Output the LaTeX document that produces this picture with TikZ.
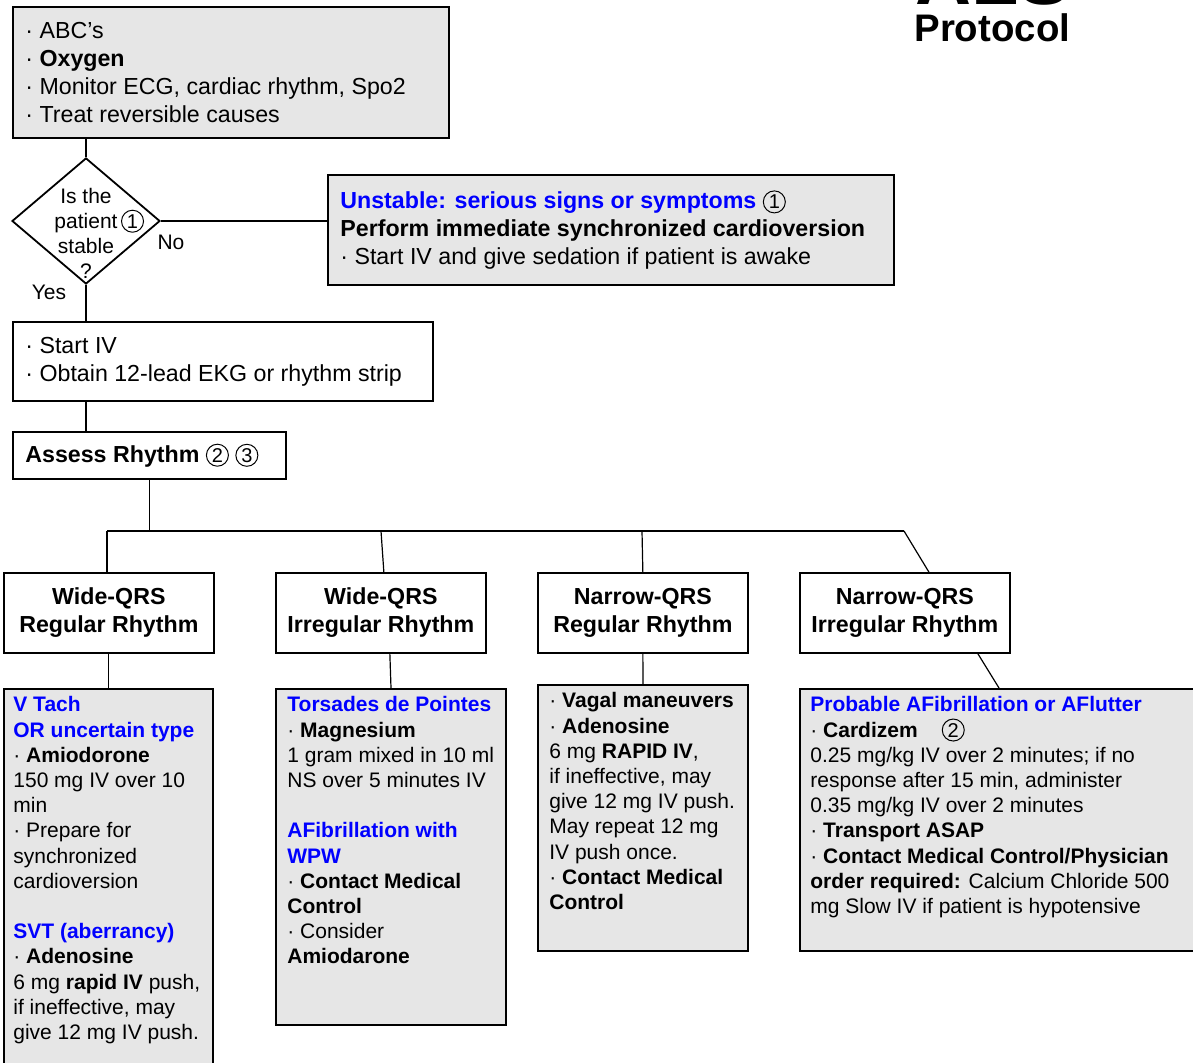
\documentclass[tikz,border=0pt]{standalone}
\usepackage{fontspec}
\setmainfont{Liberation Sans}
\usetikzlibrary{shapes.geometric}
\definecolor{boxgray}{RGB}{230,230,230}
\newcommand{\cnum}[1]{\tikz[baseline=(cn.base)]\node[circle,draw=black,text=black,line width=0.5pt,inner sep=0pt,minimum size=11pt,font=\normalfont\fontsize{10}{10}\selectfont](cn){#1};}
\newcommand{\bl}[1]{{\color{blue}\bfseries #1}}
\begin{document}
\begin{tikzpicture}[x=0.5pt,y=-0.5pt,
	graybox/.style={draw,line width=1pt,fill=boxgray,anchor=north west,inner sep=0pt},
	whitebox/.style={draw,line width=0.85pt,fill=white,anchor=north west,inner sep=0pt},
	head/.style={whitebox,minimum width=105pt,minimum height=40pt,align=center,font=\bfseries\fontsize{11.6}{14}\selectfont},
	bigtext/.style={anchor=west,align=left,inner sep=0pt,font=\fontsize{11.6}{14}\selectfont},
	smalltext/.style={anchor=north west,align=left,inner sep=0pt,font=\fontsize{10.5}{12.6}\selectfont},
	answer/.style={inner sep=0pt,font=\fontsize{10.5}{12.5}\selectfont},
	link/.style={line width=0.6pt}]
\useasboundingbox (0,0) rectangle (1193,1063);

\node[anchor=base west,inner sep=0pt,font=\bfseries\fontsize{38.8}{40}\selectfont] (als) at (915,5) {ALS};
\node[anchor=base west,inner sep=0pt,font=\bfseries\fontsize{19.2}{20}\selectfont] (title) at (914,42) {Protocol};

\node[graybox,minimum width=218pt,minimum height=65.5pt] (abc) at (12,6) {};
\node[bigtext] (abc-t) at ([xshift=6.5pt]abc.west) {· ABC’s\\· \textbf{Oxygen}\\· Monitor ECG, cardiac rhythm, Spo2\\· Treat reversible causes};

\node[draw,diamond,line width=0.9pt,minimum width=74pt,minimum height=63pt,inner sep=0pt] (stable) at (86,221) {};
\node[answer,align=center] (stable-t) at ([yshift=-6pt]stable.center) {Is the\\patient\rlap{\,\cnum{1}}\\stable\\?};
\node[answer] (no) at (171,242) {No};
\node[answer] (yes) at (49,292) {Yes};

\node[graybox,minimum width=283pt,minimum height=55pt] (unstable) at (327,174) {};
\node[bigtext] (unstable-t) at ([xshift=6.5pt]unstable.west) {\bl{Unstable: serious signs or symptoms} \cnum{1}\\\textbf{Perform immediate synchronized cardioversion}\\· Start IV and give sedation if patient is awake};

\node[whitebox,minimum width=210pt,minimum height=39.5pt] (iv) at (12,321) {};
\node[bigtext] (iv-t) at ([xshift=6.5pt]iv.west) {· Start IV\\· Obtain 12-lead EKG or rhythm strip};

\node[whitebox,minimum width=136.5pt,minimum height=23.5pt] (assess) at (12,431) {};
\node[bigtext] (assess-t) at ([xshift=6.5pt]assess.west) {\textbf{Assess Rhythm} \cnum{2} \cnum{3}};

\node[head] (wreg) at (3,572) {Wide-QRS\\Regular Rhythm};
\node[head] (wirr) at (275,572) {Wide-QRS\\Irregular Rhythm};
\node[head] (nreg) at (537,572) {Narrow-QRS\\Regular Rhythm};
\node[head] (nirr) at (799,572) {Narrow-QRS\\Irregular Rhythm};

\node[graybox,minimum width=104.5pt,minimum height=196pt] (vtach) at (3,688) {};
\node[smalltext] (vtach-t) at ([xshift=5pt,yshift=-4.1pt]vtach.north west) {\bl{V Tach}\\\bl{OR uncertain type}\\· \textbf{Amiodorone}\\150 mg IV over 10\\min\\· Prepare for\\synchronized\\cardioversion\\[12.6pt]\bl{SVT (aberrancy)}\\· \textbf{Adenosine}\\6 mg \textbf{rapid IV} push,\\if ineffective, may\\give 12 mg IV push.};

\node[graybox,minimum width=115pt,minimum height=168pt] (torsades) at (275,688) {};
\node[smalltext] (torsades-t) at ([xshift=6pt,yshift=-4.1pt]torsades.north west) {\bl{Torsades de Pointes}\\· \textbf{Magnesium}\\1 gram mixed in 10 ml\\NS over 5 minutes IV\\[12.6pt]\bl{AFibrillation with}\\\bl{WPW}\\· \textbf{Contact Medical}\\\textbf{Control}\\· Consider\\\textbf{Amiodarone}};

\node[graybox,minimum width=105pt,minimum height=133pt] (vagal) at (537,684) {};
\node[smalltext] (vagal-t) at ([xshift=6pt,yshift=-4.1pt]vagal.north west) {· \textbf{Vagal maneuvers}\\· \textbf{Adenosine}\\6 mg \textbf{RAPID IV},\\if ineffective, may\\give 12 mg IV push.\\May repeat 12 mg\\IV push once.\\· \textbf{Contact Medical}\\\textbf{Control}};

\node[graybox,minimum width=205.5pt,minimum height=131pt] (afib) at (799,688) {};
\node[smalltext] (afib-t) at ([xshift=5.5pt,yshift=-4.1pt]afib.north west) {\bl{Probable AFibrillation or AFlutter}\\· \textbf{Cardizem}\hspace{12pt}\cnum{2}\\0.25 mg/kg IV over 2 minutes; if no\\response after 15 min, administer\\0.35 mg/kg IV over 2 minutes\\· \textbf{Transport ASAP}\\· \textbf{Contact Medical Control/Physician}\\\textbf{order required:} Calcium Chloride 500\\mg Slow IV if patient is hypotensive};

\coordinate (bus1) at (107,531);
\coordinate (bus2) at (381,531);
\coordinate (bus3) at (642,531);
\coordinate (bus4) at (904,531);

\draw[link] (stable.north |- abc.south) -- (stable.north);
\draw[link] (stable.east) -- (stable.east -| unstable.west);
\draw[link] (stable.south) -- (stable.south |- iv.north);
\draw[link] (stable.south |- iv.south) -- (stable.south |- assess.north);
\draw[link] (assess.south) -- (assess.south |- bus1);
\draw[link,line width=0.8pt] (bus1) -- (bus4);
\draw[link] (bus1) -- (bus1 |- wreg.north);
\draw[link] (bus2) -- ([xshift=1.5pt]wirr.north);
\draw[link] (bus3) -- (nreg.north);
\draw[link] (bus4) -- ([xshift=12pt]nirr.north);
\draw[link] (wreg.south) -- (wreg.south |- vtach.north);
\draw[link] ([xshift=4.5pt]wirr.south) -- (torsades.north);
\draw[link] (nreg.south) -- (vagal.north);
\draw[link] ([xshift=36.5pt]nirr.south) -- ([xshift=100pt]afib.north west);
\end{tikzpicture}
\end{document}
